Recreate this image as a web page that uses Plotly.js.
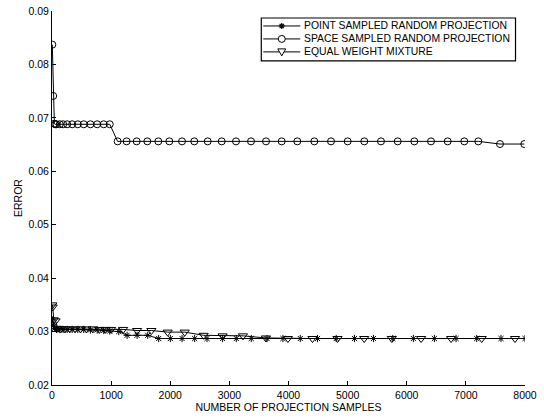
<!DOCTYPE html>
<html>
<head>
<meta charset="utf-8">
<script src="https://cdn.plot.ly/plotly-3.0.1.min.js"></script>
<style>html,body{margin:0;padding:0;background:#fff;}#chart{width:544px;height:418px;}</style>
</head>
<body>
<div id="chart"></div>
<script>
// Point sampled random projection (stars)
var pointX = [5, 20, 40, 76, 132, 189, 257, 341, 436, 537, 650, 764, 875, 976, 1129, 1270, 1439, 1619, 1804, 2002, 2200, 2413, 2622, 2886, 3117, 3370, 3636, 3906, 4199, 4491, 4807, 5116, 5437, 5764, 6112, 6467, 6834, 7183, 7594, 8000];
var pointY = [0.0322, 0.0312, 0.0306, 0.0304, 0.0304, 0.0304, 0.0304, 0.0304, 0.0304, 0.0304, 0.0303, 0.0303, 0.0302, 0.0301, 0.0300, 0.0293, 0.0293, 0.0293, 0.0287, 0.0287, 0.0287, 0.0287, 0.0287, 0.0287, 0.0287, 0.0287, 0.0287, 0.0287, 0.0287, 0.0287, 0.0287, 0.0287, 0.0287, 0.0287, 0.0287, 0.0287, 0.0287, 0.0287, 0.0287, 0.0287];

// Space sampled random projection (circles)
var spaceX = [5, 20, 40, 55, 76, 132, 189, 257, 341, 436, 537, 650, 764, 875, 977, 1110, 1262, 1432, 1612, 1798, 1984, 2199, 2407, 2633, 2870, 3112, 3366, 3620, 3885, 4149, 4437, 4719, 5001, 5282, 5564, 5847, 6128, 6410, 6692, 6973, 7210, 7577, 7988];
var spaceY = [0.0837, 0.0741, 0.0689, 0.0688, 0.0688, 0.0688, 0.0688, 0.0688, 0.0688, 0.0688, 0.0688, 0.0688, 0.0688, 0.0688, 0.0688, 0.0656, 0.0656, 0.0656, 0.0656, 0.0656, 0.0656, 0.0656, 0.0656, 0.0656, 0.0656, 0.0656, 0.0656, 0.0656, 0.0656, 0.0656, 0.0656, 0.0656, 0.0656, 0.0656, 0.0656, 0.0656, 0.0656, 0.0656, 0.0656, 0.0656, 0.0656, 0.0651, 0.0651];

// Equal weight mixture (triangles)
var mixX = [5, 12, 30, 60, 100, 150, 220, 300, 390, 480, 580, 690, 800, 900, 1000, 1203, 1439, 1681, 1956, 2244, 2565, 2886, 3230, 3619, 3990, 4406, 4829, 5280, 5748, 6243, 6750, 7268, 7831];
var mixY = [0.0350, 0.0346, 0.0322, 0.0320, 0.0306, 0.0305, 0.0305, 0.0305, 0.0305, 0.0305, 0.0305, 0.0305, 0.0304, 0.0304, 0.0304, 0.0304, 0.0302, 0.0302, 0.0299, 0.0299, 0.0293, 0.0292, 0.0292, 0.0288, 0.0287, 0.0287, 0.0287, 0.0287, 0.0287, 0.0287, 0.0287, 0.0287, 0.0287];

var seriesNames = ['POINT SAMPLED RANDOM PROJECTION', 'SPACE SAMPLED RANDOM PROJECTION', 'EQUAL WEIGHT MIXTURE'];
var xTicks = [0, 1000, 2000, 3000, 4000, 5000, 6000, 7000, 8000];
var xTickText = ['0', '1000', '2000', '3000', '4000', '5000', '6000', '7000', '8000'];
var yTicks = [0.02, 0.03, 0.04, 0.05, 0.06, 0.07, 0.08, 0.09];
var yTickText = ['0.02', '0.03', '0.04', '0.05', '0.06', '0.07', '0.08', '0.09'];

var FONT = 'Liberation Sans, Arial, Helvetica, sans-serif';
var lineStyle = {color: '#000', width: 1};

var traces = [
  {x: pointX, y: pointY, name: seriesNames[0], mode: 'lines+markers', line: lineStyle,
   marker: {symbol: 'asterisk-open', size: 6, color: '#000', line: {color: '#000', width: 1}}},
  {x: spaceX, y: spaceY, name: seriesNames[1], mode: 'lines+markers', line: lineStyle,
   marker: {symbol: 'circle-open', size: 7, color: '#000', line: {color: '#000', width: 1}}},
  {x: mixX, y: mixY, name: seriesNames[2], mode: 'lines+markers', line: lineStyle,
   marker: {symbol: 'triangle-down-open', size: 8, color: '#000', line: {color: '#000', width: 1}}}
];

// ---- custom compact legend (layout geometry, in pixels of the 544x418 page) ----
var M = {l: 51.5, r: 19, t: 10.5, b: 32.5};
var PW = 544 - M.l - M.r, PH = 418 - M.t - M.b;
function fx(px) { return (px - M.l) / PW; }
function fy(py) { return 1 - (py - M.t) / PH; }
var LG = {left: 261, right: 515.5, top: 17.5, bottom: 60.5, rows: [25.5, 38.5, 51.5],
          lineX0: 263, lineX1: 300, symX: 281.5, textX: 302};
var shapes = [];
var annotations = [];
shapes.push({type: 'rect', xref: 'paper', yref: 'paper', x0: fx(LG.left), x1: fx(LG.right),
             y0: fy(LG.bottom), y1: fy(LG.top), line: {color: '#000', width: 1.2}, fillcolor: '#fff', layer: 'above'});
LG.rows.forEach(function (ry, i) {
  shapes.push({type: 'line', xref: 'paper', yref: 'paper', x0: fx(LG.lineX0), x1: fx(LG.lineX1),
               y0: fy(ry), y1: fy(ry), line: {color: '#000', width: 1}, layer: 'above'});
  var cx = LG.symX, cy = ry, p;
  if (i === 0) {
    var r = 3;
    var d = r * 0.707;
    p = 'M' + fx(cx - r) + ',' + fy(cy) + 'L' + fx(cx + r) + ',' + fy(cy) +
        'M' + fx(cx) + ',' + fy(cy - r) + 'L' + fx(cx) + ',' + fy(cy + r) +
        'M' + fx(cx - d) + ',' + fy(cy - d) + 'L' + fx(cx + d) + ',' + fy(cy + d) +
        'M' + fx(cx - d) + ',' + fy(cy + d) + 'L' + fx(cx + d) + ',' + fy(cy - d);
    shapes.push({type: 'path', xref: 'paper', yref: 'paper', path: p, line: {color: '#000', width: 1.2}, layer: 'above'});
  } else if (i === 1) {
    shapes.push({type: 'circle', xref: 'paper', yref: 'paper', x0: fx(cx - 3.5), x1: fx(cx + 3.5),
                 y0: fy(cy + 3.5), y1: fy(cy - 3.5), line: {color: '#000', width: 1}, fillcolor: '#fff', layer: 'above'});
  } else {
    p = 'M' + fx(cx - 4) + ',' + fy(cy - 3) + 'L' + fx(cx + 4) + ',' + fy(cy - 3) +
        'L' + fx(cx) + ',' + fy(cy + 4) + 'Z';
    shapes.push({type: 'path', xref: 'paper', yref: 'paper', path: p, line: {color: '#000', width: 1}, fillcolor: '#fff', layer: 'above'});
  }
  annotations.push({xref: 'paper', yref: 'paper', x: fx(LG.textX), y: fy(ry), xanchor: 'left', yanchor: 'middle',
                    text: seriesNames[i], showarrow: false, font: {family: FONT, size: 10.4, color: '#000'}});
});

var layout = {
  width: 544, height: 418,
  margin: {l: M.l, r: M.r, t: M.t, b: M.b, pad: 0},
  paper_bgcolor: '#fff', plot_bgcolor: '#fff',
  font: {family: FONT, size: 10.5, color: '#000'},
  showlegend: false,
  shapes: shapes,
  annotations: annotations,
  xaxis: {range: [0, 8000], tickmode: 'array', tickvals: xTicks, ticktext: xTickText,
          showgrid: false, zeroline: false, showline: true, linecolor: '#000', linewidth: 1,
          ticks: 'inside', ticklen: 4, tickcolor: '#000', tickwidth: 1,
          tickfont: {family: FONT, size: 10.5, color: '#000'},
          title: {text: 'NUMBER OF PROJECTION SAMPLES', font: {family: FONT, size: 10.5, color: '#000'}, standoff: 1}},
  yaxis: {range: [0.02, 0.09], tickmode: 'array', tickvals: yTicks, ticktext: yTickText,
          showgrid: false, zeroline: false, showline: true, linecolor: '#000', linewidth: 1,
          ticks: 'inside', ticklen: 4, tickcolor: '#000', tickwidth: 1,
          tickfont: {family: FONT, size: 10.5, color: '#000'},
          title: {text: 'ERROR', font: {family: FONT, size: 10.5, color: '#000'}, standoff: 3}}
};

Plotly.newPlot('chart', traces, layout, {displayModeBar: false, staticPlot: true});
</script>
</body>
</html>
